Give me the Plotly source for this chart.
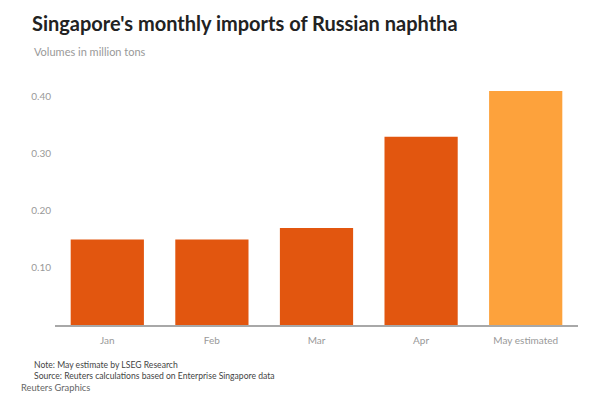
import plotly.graph_objects as go

months = ["Jan", "Feb", "Mar", "Apr", "May estimated"]
volumes = [0.15, 0.15, 0.17, 0.33, 0.41]
bar_colors = ["#e2560f", "#e2560f", "#e2560f", "#e2560f", "#fda23c"]
y_ticks = [0.10, 0.20, 0.30, 0.40]
y_tick_labels = ["0.10", "0.20", "0.30", "0.40"]

FONT = "Source Sans Pro, Lato, Open Sans, sans-serif"

fig = go.Figure(go.Bar(x=months, y=volumes, marker=dict(color=bar_colors, line=dict(width=0)),
                       hoverinfo="x+y"))

top, bottom = 74, 325
h = bottom - top
def py(p):
    return (bottom - p) / h

fig.update_layout(
    width=600, height=400,
    margin=dict(l=55, r=22, t=top, b=400 - bottom),
    paper_bgcolor="white", plot_bgcolor="white",
    bargap=0.3,
    showlegend=False,
    font=dict(family=FONT, color="#999999", size=10),
    title=dict(text="<b>Singapore's monthly imports of Russian naphtha</b>",
               x=32 / 600, xanchor="left", xref="container",
               y=1 - 24 / 400, yanchor="middle", yref="container",
               font=dict(size=20, color="#222222", family=FONT)),
    xaxis=dict(showgrid=False, showline=True, linecolor="#a8a8a8", linewidth=2,
               ticks="", tickfont=dict(size=10, color="#999999"), ticklabelstandoff=5,
               fixedrange=True),
    yaxis=dict(range=[0, 0.44], showgrid=False, zeroline=False, showline=False,
               tickvals=y_ticks, ticktext=y_tick_labels, ticks="",
               tickfont=dict(size=10, color="#999999"), ticklabelstandoff=3,
               fixedrange=True),
)

annots = [
    ("Volumes in million tons", 32, 51.5, 11, "#999999"),
    ("Note: May estimate by LSEG Research", 32, 365, 8.6, "#444444"),
    ("Source: Reuters calculations based on Enterprise Singapore data", 32, 376, 8.6, "#444444"),
    ("Reuters Graphics", 19, 387, 9.3, "#666666"),
]
for text, xpx, ypx, size, color in annots:
    fig.add_annotation(text=text, xref="paper", yref="paper",
                       x=(xpx - 55) / (600 - 55 - 22), y=py(ypx),
                       xanchor="left", yanchor="middle", showarrow=False,
                       font=dict(size=size, color=color, family=FONT))

fig.write_html("out.html")
